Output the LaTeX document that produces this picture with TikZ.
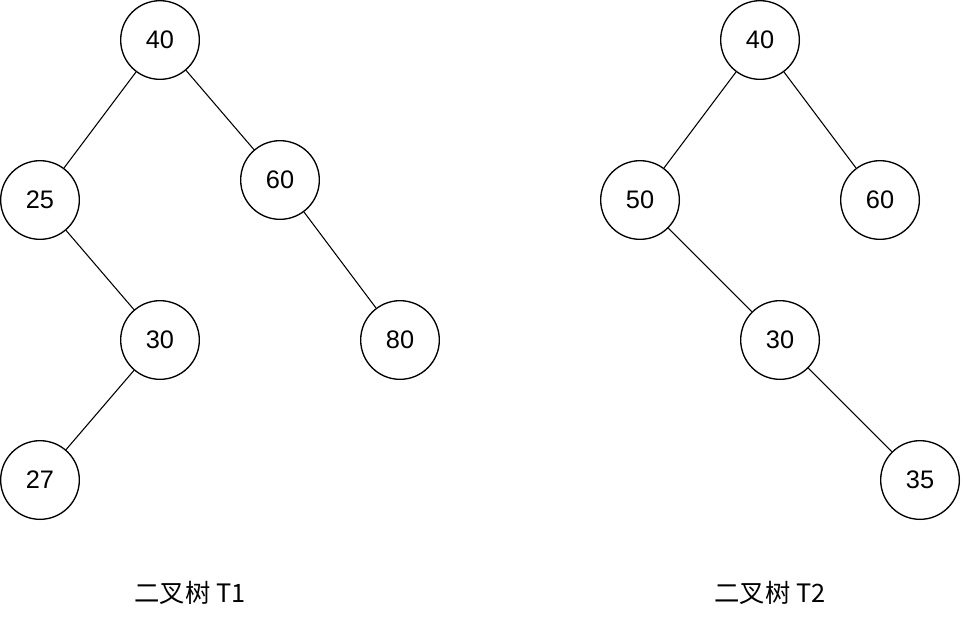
\documentclass[tikz,border=0pt]{standalone}
\usepackage{fontspec}
\setmainfont{Liberation Sans}
\newfontfamily\cjk{Noto Sans CJK SC}
\tikzset{
  tnode/.style={circle, draw, line width=1pt, minimum size=59pt, inner sep=0pt, font=\fontsize{19}{22}\selectfont},
  tedge/.style={line width=0.8pt},
  tcap/.style={font=\cjk\fontsize{19}{22}\selectfont}
}
\begin{document}
\begin{tikzpicture}[x=0.75pt,y=-0.75pt]
  \useasboundingbox (0,0) rectangle (962,622);
  % T1
  \node[tnode] (a40) at (160,40)  {40};
  \node[tnode] (a25) at (40,200)  {25};
  \node[tnode] (a60) at (280,180) {60};
  \node[tnode] (a30) at (160,340) {30};
  \node[tnode] (a80) at (400,340) {80};
  \node[tnode] (a27) at (40,480)  {27};
  \draw[tedge] (a40) -- (a25);
  \draw[tedge] (a40) -- (a60);
  \draw[tedge] (a25) -- (a30);
  \draw[tedge] (a60) -- (a80);
  \draw[tedge] (a30) -- (a27);
  % T2
  \node[tnode] (b40) at (760,40)  {40};
  \node[tnode] (b50) at (640,200) {50};
  \node[tnode] (b60) at (880,200) {60};
  \node[tnode] (b30) at (780,340) {30};
  \node[tnode] (b35) at (920,480) {35};
  \draw[tedge] (b40) -- (b50);
  \draw[tedge] (b40) -- (b60);
  \draw[tedge] (b50) -- (b30);
  \draw[tedge] (b30) -- (b35);
  % captions
  \node[tcap] (capa) at (190,593) {二叉树 T1};
  \node[tcap] (capb) at (770,593) {二叉树 T2};
\end{tikzpicture}
\end{document}
